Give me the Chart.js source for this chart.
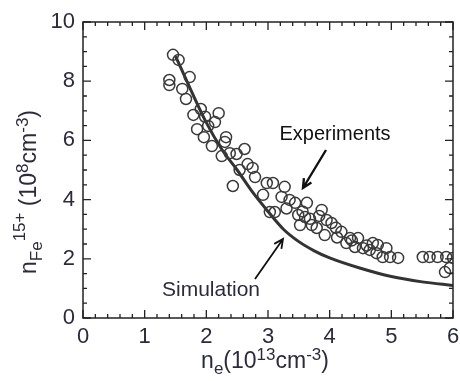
<!DOCTYPE html>
<html>
<head>
<meta charset="utf-8">
<script src="https://cdn.jsdelivr.net/npm/chart.js@4.4.1/dist/chart.umd.min.js"></script>
<style>
  html, body { margin: 0; padding: 0; background: #fff; }
  #wrap { width: 460px; height: 381px; }
</style>
</head>
<body>
<div id="wrap"><canvas id="myChart" width="460" height="381"></canvas></div>
<script>
// experiment points (n_e, n_Fe15+)
var expX = [1.46, 1.55, 1.40, 1.40, 1.73, 1.61, 1.67, 1.91, 1.79, 1.98, 2.20, 2.14, 2.03, 1.85, 1.96, 2.32,
            2.30, 2.09, 2.25, 2.38, 2.49, 2.62, 2.67, 2.54, 2.75, 2.79, 2.43, 2.92, 2.98, 3.08, 3.27, 3.22,
            3.35, 3.44, 3.63, 3.87, 3.49, 3.60, 3.52, 3.71, 3.79, 3.11, 3.03, 3.95, 4.03, 3.92, 4.19, 4.33,
            4.46, 4.27, 4.41, 4.54, 4.70, 4.78, 4.65, 4.92, 4.76, 4.98, 5.11, 4.86, 5.51, 5.62, 5.75, 5.89,
            6.00, 5.95, 5.87, 3.30, 3.56, 3.83, 4.10, 4.36, 4.60, 4.12, 3.68];
var expY = [8.89, 8.72, 8.04, 7.87, 8.14, 7.74, 7.40, 7.06, 6.86, 6.80, 6.92, 6.62, 6.49, 6.38, 6.11, 6.11,
            5.95, 5.81, 5.47, 5.57, 5.54, 5.71, 5.20, 5.00, 5.07, 4.76, 4.46, 4.16, 4.56, 4.56, 4.43, 4.09,
            3.99, 3.89, 3.89, 3.65, 3.48, 3.41, 3.14, 3.14, 3.04, 3.58, 3.58, 3.31, 3.21, 2.80, 2.91, 2.70,
            2.70, 2.53, 2.40, 2.36, 2.53, 2.47, 2.30, 2.36, 2.19, 2.06, 2.03, 2.06, 2.06, 2.06, 2.06, 2.06,
            2.03, 1.69, 1.55, 3.70, 3.60, 3.45, 3.05, 2.62, 2.45, 2.72, 3.35];

// simulation curve
var simX = [1.5, 1.75, 2.0, 2.25, 2.5, 2.75, 3.0, 3.25, 3.5, 3.75, 4.0, 4.5, 5.0, 5.5, 6.0];
var simY = [8.85, 7.7, 6.6, 5.7, 5.0, 4.25, 3.6, 3.0, 2.58, 2.27, 2.03, 1.68, 1.40, 1.22, 1.10];

var xMin = 0, xMax = 6, yMin = 0, yMax = 10;
var txtColor = '#2b2b3d';
var fontFam = '"Liberation Sans", Arial, sans-serif';

var expPts = expX.map(function(v, i){ return {x: v, y: expY[i]}; });
var simPts = simX.map(function(v, i){ return {x: v, y: simY[i]}; });

// draws text pieces with sub/superscripts
function richText(ctx, parts, x, y) {
  var w = 0;
  parts.forEach(function(p){ ctx.font = p.size + 'px ' + fontFam; w += ctx.measureText(p.t).width; });
  var cx = x - w / 2;
  parts.forEach(function(p){
    ctx.font = p.size + 'px ' + fontFam;
    ctx.fillText(p.t, cx, y + (p.dy || 0));
    cx += ctx.measureText(p.t).width;
  });
}

function arrow(ctx, x1, y1, x2, y2) {
  var ang = Math.atan2(y2 - y1, x2 - x1), h = 10;
  ctx.beginPath();
  ctx.moveTo(x1, y1); ctx.lineTo(x2, y2);
  ctx.moveTo(x2 - h * Math.cos(ang - 0.45), y2 - h * Math.sin(ang - 0.45));
  ctx.lineTo(x2, y2);
  ctx.lineTo(x2 - h * Math.cos(ang + 0.45), y2 - h * Math.sin(ang + 0.45));
  ctx.stroke();
}

var framePlugin = {
  id: 'frame',
  afterDatasetsDraw: function(chart) {
    var ctx = chart.ctx, a = chart.chartArea;
    var xs = chart.scales.x, ys = chart.scales.y;
    ctx.save();
    ctx.strokeStyle = '#222';
    ctx.lineWidth = 1.5;
    ctx.strokeRect(a.left, a.top, a.right - a.left, a.bottom - a.top);
    ctx.lineWidth = 1.3;
    ctx.beginPath();
    for (var i = 0; i <= 30; i++) {
      var px = xs.getPixelForValue(xMin + i * 0.2);
      var len = (i % 5 === 0) ? 8 : 4;
      ctx.moveTo(px, a.bottom); ctx.lineTo(px, a.bottom - len);
      ctx.moveTo(px, a.top); ctx.lineTo(px, a.top + len);
    }
    for (var j = 0; j <= 20; j++) {
      var py = ys.getPixelForValue(yMin + j * 0.5);
      var l2 = (j % 4 === 0) ? 8 : 4;
      ctx.moveTo(a.left, py); ctx.lineTo(a.left + l2, py);
      ctx.moveTo(a.right, py); ctx.lineTo(a.right - l2, py);
    }
    ctx.stroke();
    ctx.restore();
  },
  afterDraw: function(chart) {
    var ctx = chart.ctx;
    ctx.save();
    ctx.fillStyle = txtColor;
    ctx.textBaseline = 'middle';
    // x title
    richText(ctx, [
      {t: 'n', size: 23}, {t: 'e', size: 17, dy: 7}, {t: '(10', size: 23},
      {t: '13', size: 17, dy: -7}, {t: 'cm', size: 23}, {t: '-3', size: 17, dy: -7}, {t: ')', size: 23}
    ], 265, 362);
    // y title
    ctx.translate(30, 192);
    ctx.rotate(-Math.PI / 2);
    richText(ctx, [
      {t: 'n', size: 23}, {t: 'Fe', size: 17, dy: 7}, {t: '15+', size: 17, dy: -10}, {t: ' (10', size: 23},
      {t: '8', size: 17, dy: -7}, {t: 'cm', size: 23}, {t: '-3', size: 17, dy: -7}, {t: ')', size: 23}
    ], 0, 0);
    ctx.restore();

    // annotations
    ctx.save();
    ctx.fillStyle = '#111';
    ctx.font = '20px ' + fontFam;
    ctx.textBaseline = 'middle';
    ctx.textAlign = 'center';
    ctx.fillText('Experiments', 335, 134);
    ctx.fillStyle = txtColor;
    ctx.font = '21px ' + fontFam;
    ctx.fillText('Simulation', 211, 290);
    ctx.strokeStyle = '#111';
    ctx.lineWidth = 2.4;
    arrow(ctx, 326, 150, 303, 188);
    ctx.lineWidth = 1.8;
    arrow(ctx, 255, 279, 283, 239);
    ctx.restore();
  }
};

var chart = new Chart(document.getElementById('myChart'), {
  type: 'scatter',
  data: {
    datasets: [
      {
        label: 'Experiments',
        data: expPts,
        pointStyle: 'circle',
        pointRadius: 5.5,
        pointBorderWidth: 1.5,
        borderColor: '#3a3a3a',
        backgroundColor: 'rgba(255,255,255,0)',
        showLine: false
      },
      {
        label: 'Simulation',
        data: simPts,
        showLine: true,
        pointRadius: 0,
        borderColor: '#333',
        borderWidth: 3,
        cubicInterpolationMode: 'monotone'
      }
    ]
  },
  options: {
    responsive: false,
    animation: false,
    layout: { padding: { left: 0, right: 7, top: 22, bottom: 0 } },
    plugins: { legend: { display: false }, tooltip: { enabled: false } },
    scales: {
      x: {
        type: 'linear', min: xMin, max: xMax,
        grid: { display: false, drawTicks: false },
        border: { display: false },
        ticks: { stepSize: 1, color: txtColor, padding: 6, font: { family: fontFam, size: 22 } },
        afterFit: function(s){ s.height = 63; s.paddingRight = 0; s.paddingLeft = 0; }
      },
      y: {
        type: 'linear', min: yMin, max: yMax,
        grid: { display: false, drawTicks: false },
        border: { display: false },
        ticks: { stepSize: 2, color: txtColor, padding: 8, font: { family: fontFam, size: 22 } },
        afterFit: function(s){ s.width = 83; s.paddingTop = 0; s.paddingBottom = 0; }
      }
    }
  },
  plugins: [framePlugin]
});
</script>
</body>
</html>
